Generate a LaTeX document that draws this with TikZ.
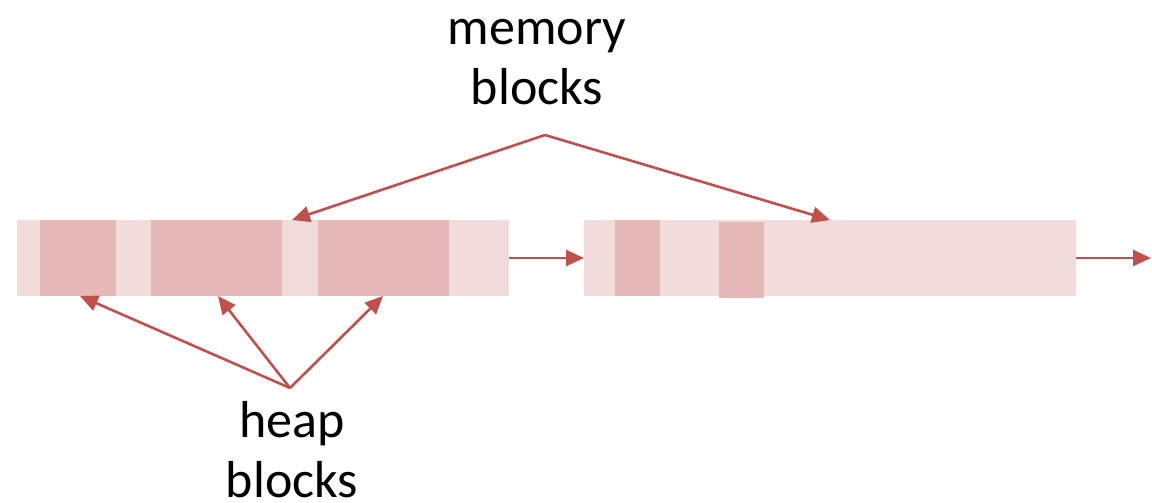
\documentclass[tikz,border=0pt]{standalone}
\usepackage{fontspec}
\setmainfont{Carlito}
\usetikzlibrary{arrows.meta}
\definecolor{freecol}{HTML}{F2DCDB}
\definecolor{usedcol}{HTML}{E6B9B8}
\definecolor{linkcol}{HTML}{C0504D}
\begin{document}
\begin{tikzpicture}[x=1pt,y=-1pt,
  membox/.style={fill=freecol, draw=none, inner sep=0pt, outer sep=0pt, anchor=north west, minimum height=76pt},
  heapbox/.style={fill=usedcol, draw=none, inner sep=0pt, outer sep=0pt, anchor=north west, minimum height=76pt},
  ptr/.style={draw=linkcol, line width=2.6pt, -{Triangle[length=18pt,width=16pt]}},
  label/.style={font=\fontsize{52}{60}\selectfont, align=center, inner sep=0pt, anchor=base}]
\useasboundingbox (0,0) rectangle (1152,503);

% two memory blocks (free space)
\node[membox, minimum width=492pt] (mem1) at (17,220) {};
\node[membox, minimum width=492pt] (mem2) at (584,220) {};

% heap blocks inside them
\node[heapbox, minimum width=76pt]  (h1) at (40,220) {};
\node[heapbox, minimum width=131pt] (h2) at (151,220) {};
\node[heapbox, minimum width=131pt] (h3) at (318,220) {};
\node[heapbox, minimum width=45pt]  (h4) at (615,220) {};
\node[heapbox, minimum width=45pt]  (h5) at (719,222) {};

% chain links between memory blocks
\coordinate (next) at (1151,258);
\draw[ptr] (mem1.east) -- (mem2.west);
\draw[ptr] (mem2.east) -- (next);

% labels (anchor=base sits on the last line's baseline)
\node[label] (memlbl) at (537,104) {memory\\blocks};
\node[label] (heaplbl) at (292,497) {heap\\blocks};

\coordinate (memsrc) at (545,135);
\coordinate (heapsrc) at (290,388);
\coordinate (t1) at (292,220);
\coordinate (t2) at (830,220);
\coordinate (b1) at (80,296);
\coordinate (b2) at (218,296);
\coordinate (b3) at (383,296);

\draw[ptr] (memsrc) -- (t1);
\draw[ptr] (memsrc) -- (t2);
\draw[ptr] (heapsrc) -- (b1);
\draw[ptr] (heapsrc) -- (b2);
\draw[ptr] (heapsrc) -- (b3);
\end{tikzpicture}
\end{document}
